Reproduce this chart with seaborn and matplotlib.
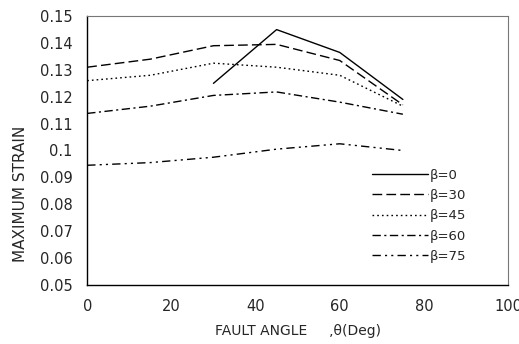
import matplotlib
matplotlib.use("Agg")
import matplotlib.pyplot as plt
import seaborn as sns
import pandas as pd

angles = [0, 15, 30, 45, 60, 75]
angles_b0 = [30, 45, 60, 75]
strain_b0 = [0.125, 0.145, 0.1365, 0.119]
strain_b30 = [0.131, 0.134, 0.139, 0.1395, 0.1335, 0.117]
strain_b45 = [0.126, 0.128, 0.1325, 0.131, 0.128, 0.1165]
strain_b60 = [0.1138, 0.1165, 0.1205, 0.1218, 0.118, 0.1135]
strain_b75 = [0.0945, 0.0955, 0.0975, 0.1005, 0.1025, 0.100]
labels = ["β=0", "β=30", "β=45", "β=60", "β=75"]
xticks = [0, 20, 40, 60, 80, 100]
yticks = [0.05, 0.06, 0.07, 0.08, 0.09, 0.1, 0.11, 0.12, 0.13, 0.14, 0.15]
ytick_labels = ["0.05", "0.06", "0.07", "0.08", "0.09", "0.1", "0.11", "0.12", "0.13", "0.14", "0.15"]

rows = []
for x, y in zip(angles_b0, strain_b0):
    rows.append((x, y, labels[0]))
for lab, ys in zip(labels[1:], [strain_b30, strain_b45, strain_b60, strain_b75]):
    for x, y in zip(angles, ys):
        rows.append((x, y, lab))
df = pd.DataFrame(rows, columns=["angle", "strain", "beta"])

sns.set_style("white")
plt.rcParams['font.family'] = ['DejaVu Sans']

fig = plt.figure(figsize=(5.19, 3.44), dpi=100)
ax = fig.add_axes([0.168, 0.172, 0.811, 0.781])

dashes = {
    "β=0": "",
    "β=30": (7, 3),
    "β=45": (1.2, 2.2),
    "β=60": (6, 2.5, 1.5, 2.5),
    "β=75": (6, 3, 1.5, 3, 1.5, 3),
}
sns.lineplot(data=df, x="angle", y="strain", hue="beta", style="beta",
             palette=["black"] * 5, dashes=dashes, hue_order=labels,
             style_order=labels, linewidth=1.0, ax=ax, legend=True)

ax.set_xlim(0, 100)
ax.set_ylim(0.05, 0.15)
ax.set_xticks(xticks)
ax.set_xticklabels([str(t) for t in xticks], fontsize=10.5)
ax.set_yticks(yticks)
ax.set_yticklabels(ytick_labels, fontsize=10.5)
ax.tick_params(direction='inout', length=5, width=0.8, color='black', pad=8)
ax.set_xlabel("FAULT ANGLE     ,θ(Deg)", fontsize=10, labelpad=7)
ax.set_ylabel("MAXIMUM STRAIN", fontsize=11)
ax.yaxis.set_label_coords(-0.14, 0.34)

for side in ["left", "bottom"]:
    ax.spines[side].set_color("black")
    ax.spines[side].set_linewidth(1.0)
for side in ["top", "right"]:
    ax.spines[side].set_color("#777777")
    ax.spines[side].set_linewidth(0.8)
    ax.spines[side].set_linestyle((0, (1, 1)))

leg = ax.legend(loc="upper left", bbox_to_anchor=(0.677, 0.432), frameon=False,
                fontsize=9.5, handlelength=4.2, handletextpad=0.2,
                labelspacing=0.55, borderaxespad=0, borderpad=0)
for h in leg.get_lines():
    h.set_linewidth(1.0)

fig.savefig("out.png", dpi=100)
